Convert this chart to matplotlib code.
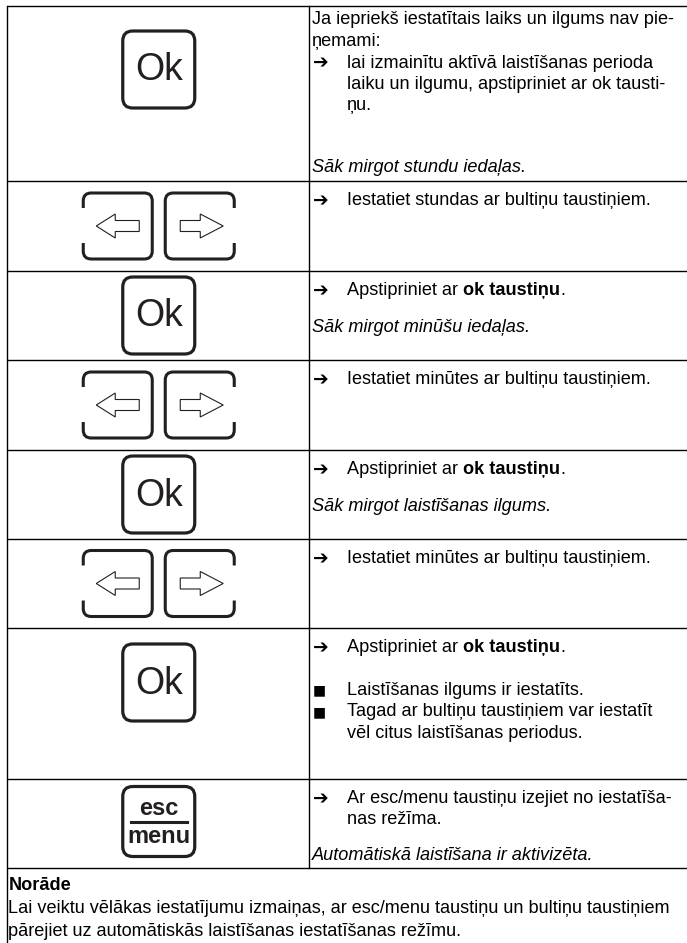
import matplotlib
matplotlib.use("Agg")
import matplotlib.pyplot as plt
from matplotlib.patches import PathPatch, Polygon
from matplotlib.path import Path

plt.rcParams['font.family'] = ['Liberation Sans', 'DejaVu Sans']

# [ CONTENT ]
#=====================================================================
row_icons = ['ok', 'arrows', 'ok', 'arrows', 'ok', 'arrows', 'ok', 'esc']

# (kind, text) ; kind: p = plain, arrow = ➔ item, cont = indented continuation,
# bullet = ■ item, italic, blank ;  **...** = bold
row_texts = [
    [('p', 'Ja iepriekš iestatītais laiks un ilgums nav pie-'),
     ('p', 'ņemami:'),
     ('arrow', 'lai izmainītu aktīvā laistīšanas perioda'),
     ('cont', 'laiku un ilgumu, apstipriniet ar ok tausti-'),
     ('cont', 'ņu.'),
     ('blank', ''),
     ('italic', 'Sāk mirgot stundu iedaļas.')],
    [('arrow', 'Iestatiet stundas ar bultiņu taustiņiem.')],
    [('arrow', 'Apstipriniet ar **ok taustiņu**.'),
     ('blank', ''),
     ('italic', 'Sāk mirgot minūšu iedaļas.')],
    [('arrow', 'Iestatiet minūtes ar bultiņu taustiņiem.')],
    [('arrow', 'Apstipriniet ar **ok taustiņu**.'),
     ('blank', ''),
     ('italic', 'Sāk mirgot laistīšanas ilgums.')],
    [('arrow', 'Iestatiet minūtes ar bultiņu taustiņiem.')],
    [('arrow', 'Apstipriniet ar **ok taustiņu**.'),
     ('blank', ''),
     ('bullet', 'Laistīšanas ilgums ir iestatīts.'),
     ('bullet', 'Tagad ar bultiņu taustiņiem var iestatīt'),
     ('cont', 'vēl citus laistīšanas periodus.')],
    [('arrow', 'Ar esc/menu taustiņu izejiet no iestatīša-'),
     ('cont', 'nas režīma.'),
     ('blank', ''),
     ('italic', 'Automātiskā laistīšana ir aktivizēta.')],
]

note_title = 'Norāde'
note_lines = ['Lai veiktu vēlākas iestatījumu izmaiņas, ar esc/menu taustiņu un bultiņu taustiņiem',
              'pārejiet uz automātiskās laistīšanas iestatīšanas režīmu.']

# [ LAYOUT ]
#=====================================================================
W, H = 687, 943
row_edges = [6, 181, 271, 360, 450, 539, 628, 779, 868]
first_off = [14, 19.5, 19.5, 19.5, 19.5, 19.5, 19.5, 19.5]
blank_h = [39.5, 0, 15.5, 0, 15.5, 0, 21.5, 13.5]
icon_top = {0: 25, 6: 16}          # offset from row top (others centred)
X_LEFT, X_DIV = 6.5, 309
X_TXT, X_IND = 312, 347
FS = 13.1
LINE = 21.5
KEY = '#231f20'
OK_W, OK_H = 72, 77

fig = plt.figure(figsize=(W / 100, H / 100), dpi=100)
ax = fig.add_axes([0, 0, 1, 1])
ax.set_xlim(0, W)
ax.set_ylim(H, 0)
ax.axis('off')
renderer = fig.canvas.get_renderer()


def put(x, y, s, style='normal'):
    parts = s.split('**')
    for i, part in enumerate(parts):
        if not part:
            continue
        weight = 'bold' if i % 2 else 'normal'
        t = ax.text(x, y, part, fontsize=FS, fontweight=weight, fontstyle=style,
                    va='center', ha='left', color='black')
        x += t.get_window_extent(renderer).width


def rounded_path(x0, y0, x1, y1, r, gap=None):
    # rounded rect, closed or open with a gap on one side: gap = ('left'|'right', ya, yb)
    if gap is None:
        verts, codes = [(x0 + r, y0)], [Path.MOVETO]
        seq = [((x1 - r, y0), (x1, y0), (x1, y0 + r)),
               ((x1, y1 - r), (x1, y1), (x1 - r, y1)),
               ((x0 + r, y1), (x0, y1), (x0, y1 - r)),
               ((x0, y0 + r), (x0, y0), (x0 + r, y0))]
    elif gap[0] == 'left':
        verts, codes = [(x0, gap[1])], [Path.MOVETO]
        seq = [((x0, y0 + r), (x0, y0), (x0 + r, y0)),
               ((x1 - r, y0), (x1, y0), (x1, y0 + r)),
               ((x1, y1 - r), (x1, y1), (x1 - r, y1)),
               ((x0 + r, y1), (x0, y1), (x0, y1 - r))]
    else:
        verts, codes = [(x1, gap[1])], [Path.MOVETO]
        seq = [((x1, y0 + r), (x1, y0), (x1 - r, y0)),
               ((x0 + r, y0), (x0, y0), (x0, y0 + r)),
               ((x0, y1 - r), (x0, y1), (x0 + r, y1)),
               ((x1 - r, y1), (x1, y1), (x1, y1 - r))]
    for a, c, b in seq:
        verts += [a, c, b]
        codes += [Path.LINETO, Path.CURVE3, Path.CURVE3]
    if gap is not None:
        verts += [(x0, gap[2]) if gap[0] == 'left' else (x1, gap[2])]
        codes += [Path.LINETO]
    return Path(verts, codes)


def draw_ok(cx, top):
    ax.add_patch(PathPatch(rounded_path(cx - OK_W / 2, top, cx + OK_W / 2, top + OK_H, 10),
                           fill=False, lw=2.3, ec=KEY))
    ax.text(cx, top + OK_H / 2 + 1, 'Ok', fontsize=27, ha='center', va='center', color=KEY)


def draw_esc(cx, top):
    w, h = 72, 70
    ax.add_patch(PathPatch(rounded_path(cx - w / 2, top, cx + w / 2, top + h, 10),
                           fill=False, lw=2.3, ec=KEY))
    ax.text(cx, top + h * 0.31, 'esc', fontsize=17, fontweight='bold', ha='center',
            va='center', color=KEY)
    ax.plot([cx - 28, cx + 28], [top + h * 0.5, top + h * 0.5], color=KEY, lw=2.2)
    ax.text(cx, top + h * 0.72, 'menu', fontsize=17, fontweight='bold', ha='center',
            va='center', color=KEY)


def hollow_arrow(tip, base, end, cy):
    hh, sh = 12, 5.5
    ax.add_patch(Polygon([(tip, cy), (base, cy - hh), (base, cy - sh), (end, cy - sh),
                          (end, cy + sh), (base, cy + sh), (base, cy + hh)],
                         closed=True, fill=False, ec=KEY, lw=0.8))


def draw_arrows(cx, cy):
    w, h, gap = 69, 66, 13
    top, bot = cy - h / 2, cy + h / 2
    lx0, lx1 = cx - gap / 2 - w, cx - gap / 2
    rx0, rx1 = cx + gap / 2, cx + gap / 2 + w
    ax.add_patch(PathPatch(rounded_path(lx0, top, lx1, bot, 8, ('left', top + 15, bot - 16)),
                           fill=False, lw=2.2, ec=KEY))
    ax.add_patch(PathPatch(rounded_path(rx0, top, rx1, bot, 8, ('right', top + 15, bot - 16)),
                           fill=False, lw=2.2, ec=KEY))
    hollow_arrow(lx0 + 13, lx0 + 32, lx1 - 13, cy)
    hollow_arrow(rx1 - 11, rx1 - 34, rx0 + 15, cy)


# [ TABLE GRID ]
#=====================================================================
for y in row_edges:
    ax.plot([X_LEFT, W], [y, y], color='black', lw=1.0, solid_capstyle='butt')
ax.plot([X_LEFT, X_LEFT], [row_edges[0], H], color='black', lw=1.0)
ax.plot([X_DIV, X_DIV], [row_edges[0], row_edges[-1]], color='black', lw=1.0)

# [ ROWS ]
#=====================================================================
cx = (X_LEFT + X_DIV) / 2 + 1
for i, (icon, lines) in enumerate(zip(row_icons, row_texts)):
    top, bot = row_edges[i], row_edges[i + 1]
    if icon == 'ok':
        draw_ok(cx, top + icon_top.get(i, (bot - top - OK_H) / 2))
    elif icon == 'esc':
        draw_esc(cx, top + (bot - top - 70) / 2 - 2)
    else:
        draw_arrows(cx, (top + bot) / 2)

    y = top + first_off[i]
    for kind, s in lines:
        if kind == 'blank':
            y += blank_h[i]
            continue
        if kind == 'arrow':
            ax.text(X_TXT + 1, y, '➔', fontsize=13.5, family=['DejaVu Sans'],
                    ha='left', va='center', color='black', fontweight='bold')
            put(X_IND, y, s)
        elif kind == 'bullet':
            ax.text(X_TXT + 1, y, '■', fontsize=10, family=['DejaVu Sans'],
                    ha='left', va='center', color='black')
            put(X_IND, y, s)
        elif kind == 'cont':
            put(X_IND, y, s)
        elif kind == 'italic':
            put(X_TXT, y, s, style='italic')
        else:
            put(X_TXT, y, s)
        y += LINE

# [ NOTE ]
#=====================================================================
ny = row_edges[-1] + 18
ax.text(X_LEFT + 2, ny, note_title, fontsize=FS, fontweight='bold', ha='left', va='center')
for k, s in enumerate(note_lines):
    put(X_LEFT + 2, ny + 22.5 * (k + 1), s)

fig.savefig('out.png', dpi=100)
